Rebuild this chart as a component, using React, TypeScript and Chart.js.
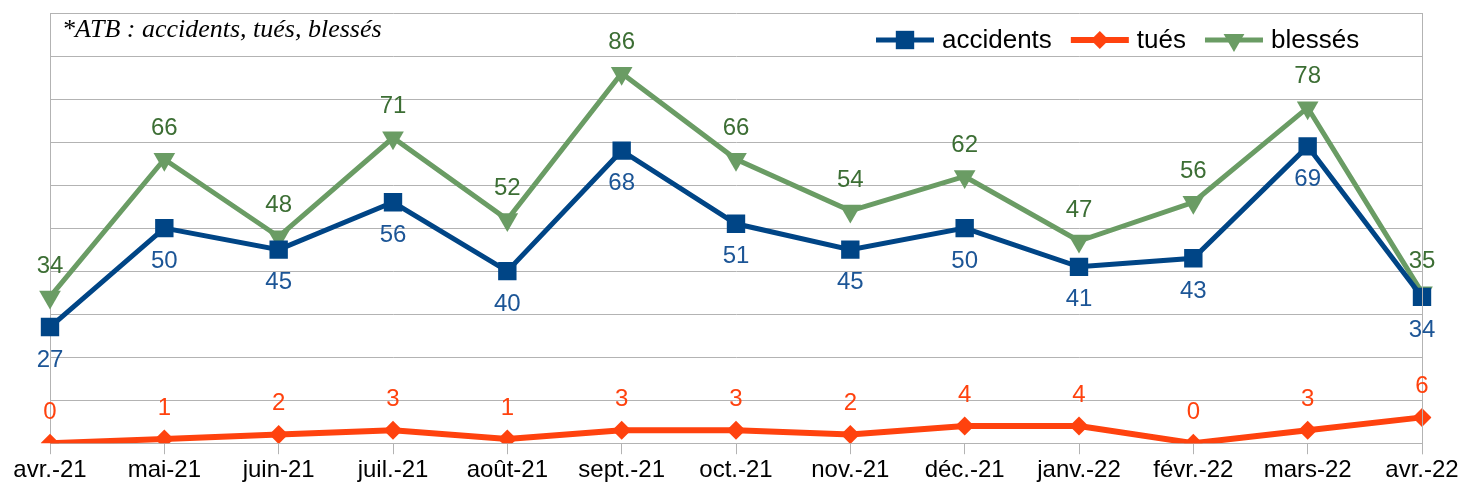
import React, { useEffect, useRef } from "react";
import { Chart, registerables } from "chart.js";

Chart.register(...registerables);

const categories = ["avr.-21", "mai-21", "juin-21", "juil.-21", "août-21", "sept.-21", "oct.-21", "nov.-21", "déc.-21", "janv.-22", "févr.-22", "mars-22", "avr.-22"];
const accidents = [27, 50, 45, 56, 40, 68, 51, 45, 50, 41, 43, 69, 34];
const tues = [0, 1, 2, 3, 1, 3, 3, 2, 4, 4, 0, 3, 6];
const blesses = [34, 66, 48, 71, 52, 86, 66, 54, 62, 47, 56, 78, 35];
const seriesNames = ["accidents", "tués", "blessés"];
const titleText = "*ATB : accidents, tués, blessés";

const COL_ACC = "#004586";
const COL_TUE = "#ff420e";
const COL_BLE = "#6a9c64";
const LBL_ACC = "#1c5596";
const LBL_TUE = "#ff420e";
const LBL_BLE = "#3c6e34";
const GRID = "#b3b3b3";
const FONT = "'Liberation Sans', Arial, sans-serif";

function drawMarker(ctx: CanvasRenderingContext2D, style: string, x: number, y: number, r: number, color: string) {
  ctx.save();
  ctx.fillStyle = color;
  ctx.beginPath();
  if (style === "rect") {
    const s = Math.SQRT1_2 * r;
    ctx.rect(x - s, y - s, 2 * s, 2 * s);
  } else if (style === "diamond") {
    ctx.moveTo(x, y - r);
    ctx.lineTo(x + r, y);
    ctx.lineTo(x, y + r);
    ctx.lineTo(x - r, y);
    ctx.closePath();
  } else {
    const w = r * Math.sqrt(3) / 2;
    ctx.moveTo(x - w, y - r / 2);
    ctx.lineTo(x + w, y - r / 2);
    ctx.lineTo(x, y + r);
    ctx.closePath();
  }
  ctx.fill();
  ctx.restore();
}

const extrasPlugin = {
  id: "extras",
  afterDraw(chart: any) {
    const ctx: CanvasRenderingContext2D = chart.ctx;
    const area = chart.chartArea;
    // right border
    ctx.save();
    ctx.strokeStyle = GRID;
    ctx.lineWidth = 1;
    ctx.beginPath();
    ctx.moveTo(area.right + 0.5, area.top);
    ctx.lineTo(area.right + 0.5, area.bottom + 11);
    ctx.stroke();
    ctx.restore();

    // data labels
    const labelCfg = [
      { color: LBL_ACC, dy: 33 },
      { color: LBL_TUE, dy: -31 },
      { color: LBL_BLE, dy: -31 },
    ];
    ctx.save();
    ctx.font = `24px ${FONT}`;
    ctx.textAlign = "center";
    ctx.textBaseline = "middle";
    chart.data.datasets.forEach((ds: any, i: number) => {
      const meta = chart.getDatasetMeta(i);
      ctx.fillStyle = labelCfg[i].color;
      meta.data.forEach((pt: any, j: number) => {
        ctx.fillText(String(ds.data[j]), pt.x, pt.y + labelCfg[i].dy);
      });
    });
    ctx.restore();

    // title
    ctx.save();
    ctx.font = `italic 26px 'Liberation Serif', 'Times New Roman', serif`;
    ctx.fillStyle = "#000";
    ctx.textAlign = "left";
    ctx.textBaseline = "alphabetic";
    ctx.fillText(titleText, area.left + 12, area.top + 24);
    ctx.restore();

    // legend
    const items = [
      { name: seriesNames[0], color: COL_ACC, style: "rect", r: 13, lw: 5 },
      { name: seriesNames[1], color: COL_TUE, style: "diamond", r: 9, lw: 6 },
      { name: seriesNames[2], color: COL_BLE, style: "tri", r: 12, lw: 5 },
    ];
    ctx.save();
    ctx.font = `26px ${FONT}`;
    ctx.textBaseline = "middle";
    ctx.textAlign = "left";
    let x = 876;
    const y = area.top + 27;
    items.forEach((it) => {
      ctx.strokeStyle = it.color;
      ctx.lineWidth = it.lw;
      ctx.beginPath();
      ctx.moveTo(x, y);
      ctx.lineTo(x + 58, y);
      ctx.stroke();
      drawMarker(ctx, it.style, x + 29, y, it.r, it.color);
      ctx.fillStyle = "#000";
      ctx.fillText(it.name, x + 66, y + 1);
      x += 66 + ctx.measureText(it.name).width + 19;
    });
    ctx.restore();
  },
};

export default function App() {
  const ref = useRef<HTMLCanvasElement>(null);
  useEffect(() => {
    document.body.style.margin = "0";
    const chart = new Chart(ref.current!, {
      type: "line",
      data: {
        labels: categories,
        datasets: [
          {
            label: seriesNames[0],
            data: accidents,
            borderColor: COL_ACC,
            backgroundColor: COL_ACC,
            borderWidth: 5,
            pointStyle: "rect",
            pointRadius: 13,
            pointBorderWidth: 0,
            tension: 0,
          },
          {
            label: seriesNames[1],
            data: tues,
            borderColor: COL_TUE,
            backgroundColor: COL_TUE,
            borderWidth: 6,
            pointStyle: "rectRot",
            pointRadius: 9.5,
            pointBorderWidth: 0,
            tension: 0,
          },
          {
            label: seriesNames[2],
            data: blesses,
            borderColor: COL_BLE,
            backgroundColor: COL_BLE,
            borderWidth: 5,
            pointStyle: "triangle",
            pointRotation: 180,
            pointRadius: 12.5,
            pointBorderWidth: 0,
            tension: 0,
          },
        ],
      },
      options: {
        animation: false,
        responsive: false,
        layout: { padding: { left: 50, right: 41, top: 12, bottom: 4 } },
        plugins: { legend: { display: false }, title: { display: false }, tooltip: { enabled: false } },
        scales: {
          x: {
            offset: false,
            grid: { drawOnChartArea: false, drawTicks: true, tickLength: 11, color: GRID },
            border: { display: true, color: GRID },
            ticks: { color: "#000", font: { family: FONT, size: 24 }, padding: 2, maxRotation: 0, autoSkip: false },
          },
          y: {
            min: 0,
            max: 100,
            grid: { color: GRID, drawTicks: false },
            border: { display: true, color: GRID },
            ticks: { display: false, stepSize: 10 },
          },
        },
      },
      plugins: [extrasPlugin],
    });
    return () => chart.destroy();
  }, []);
  return (
    <div style={{ width: 1463, height: 491 }}>
      <canvas ref={ref} width={1463} height={491} />
    </div>
  );
}
